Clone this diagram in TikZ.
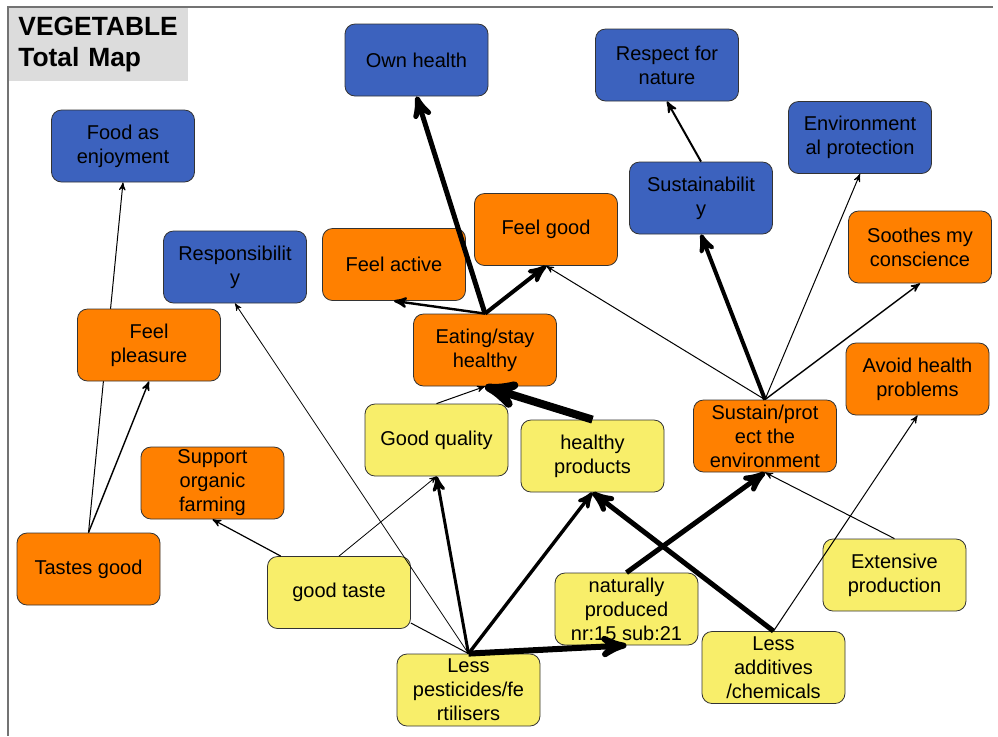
\documentclass[tikz,border=0pt]{standalone}
\usepackage{fontspec}
\setmainfont{Liberation Sans}
\usetikzlibrary{arrows}
\usetikzlibrary{backgrounds}

\definecolor{mapblue}{HTML}{3C62BE}
\definecolor{maporange}{HTML}{FF8000}
\definecolor{mapyellow}{HTML}{F8EE6A}
\definecolor{titlegray}{HTML}{DCDCDC}

\begin{document}
\begin{tikzpicture}[x=0.5pt, y=-0.5pt, >=stealth',
  box/.style={draw=black!80, rounded corners=5pt, minimum width=71.5pt, minimum height=36pt,
    align=center, inner sep=1pt, font=\fontsize{10}{12}\selectfont},
  valuebox/.style={box, fill=mapblue},
  consbox/.style={box, fill=maporange},
  attrbox/.style={box, fill=mapyellow},
  titlebox/.style={fill=titlegray, text width=80.5pt, inner xsep=4.5pt, minimum height=36.5pt,
    align=left, font=\fontsize{13.2}{15.5}\selectfont\bfseries}]
\useasboundingbox (0,0) rectangle (998,736);
\draw[black!55, line width=0.75pt] (993,7) -- (8,7) -- (8,736);
\node[titlebox, anchor=north west] (title) at (9,7.5) {VEGETABLE\\Total Map};

% values
\node[valuebox] (ownhealth) at (416.5,60) {Own health};
\node[valuebox] (respect) at (667,65) {Respect for\\nature};
\node[valuebox] (foodenjoy) at (123,146) {Food as\\enjoyment};
\node[valuebox] (envprot) at (860,137.5) {Environment\\al protection};
\node[valuebox] (sustainab) at (701,198) {Sustainabilit\\y};
\node[valuebox] (respons) at (235,267) {Responsibilit\\y};
% consequences
\node[consbox] (feelactive) at (394,264.5) {Feel active};
\node[consbox] (feelgood) at (546,229.5) {Feel good};
\node[consbox] (soothes) at (920,247) {Soothes my\\conscience};
\node[consbox] (avoidhealth) at (917.5,379) {Avoid health\\problems};
\node[consbox] (feelpleasure) at (149,345) {Feel\\pleasure};
\node[consbox] (eating) at (485,350) {Eating/stay\\healthy};
\node[consbox] (sustain) at (765,436) {Sustain/prot\\ect the\\environment};
\node[consbox] (organic) at (212.5,483) {Support\\organic\\farming};
\node[consbox] (tastesgood) at (88.5,569) {Tastes good};
% attributes
\node[attrbox] (goodquality) at (436.5,440) {Good quality};
\node[attrbox] (healthyprod) at (592.5,456) {healthy\\products};
\node[attrbox] (goodtaste) at (339,592.5) {good taste};
\node[attrbox] (natural) at (626.5,609) {naturally\\produced\\nr:15 sub:21};
\node[attrbox] (lesspest) at (468.5,690) {Less\\pesticides/fe\\rtilisers};
\node[attrbox] (lessadd) at (773.5,667.5) {Less\\additives\\/chemicals};
\node[attrbox] (extensive) at (894.5,575) {Extensive\\production};

\begin{scope}[on background layer]
\draw[->, line width=0.5pt] (tastesgood.north) -- (foodenjoy.south);
\end{scope}
\draw[->, line width=0.7pt] (tastesgood.north) -- (feelpleasure.south);
\draw[->, line width=0.6pt] (goodtaste.148) -- (organic.south);
\draw[line width=0.5pt] (lesspest.north) -- (goodtaste.-23);
\foreach \from/\to/\w in {goodtaste/goodquality/0.4pt, lesspest/respons/0.4pt,
  lesspest/goodquality/1.5pt, lesspest/healthyprod/1.7pt, lesspest/natural/3pt,
  goodquality/eating/0.5pt, healthyprod/eating/4pt, eating/ownhealth/2.5pt,
  eating/feelactive/1.2pt, eating/feelgood/2pt, sustain/feelgood/0.5pt,
  sustain/sustainab/2pt, sustain/envprot/0.5pt, sustain/soothes/0.7pt,
  sustainab/respect/1pt, natural/sustain/2.5pt, lessadd/healthyprod/2.5pt,
  lessadd/avoidhealth/0.5pt, extensive/sustain/0.5pt} {
 \draw[->, line width=\w] (\from.north) -- (\to.south);
}
\end{tikzpicture}
\end{document}
